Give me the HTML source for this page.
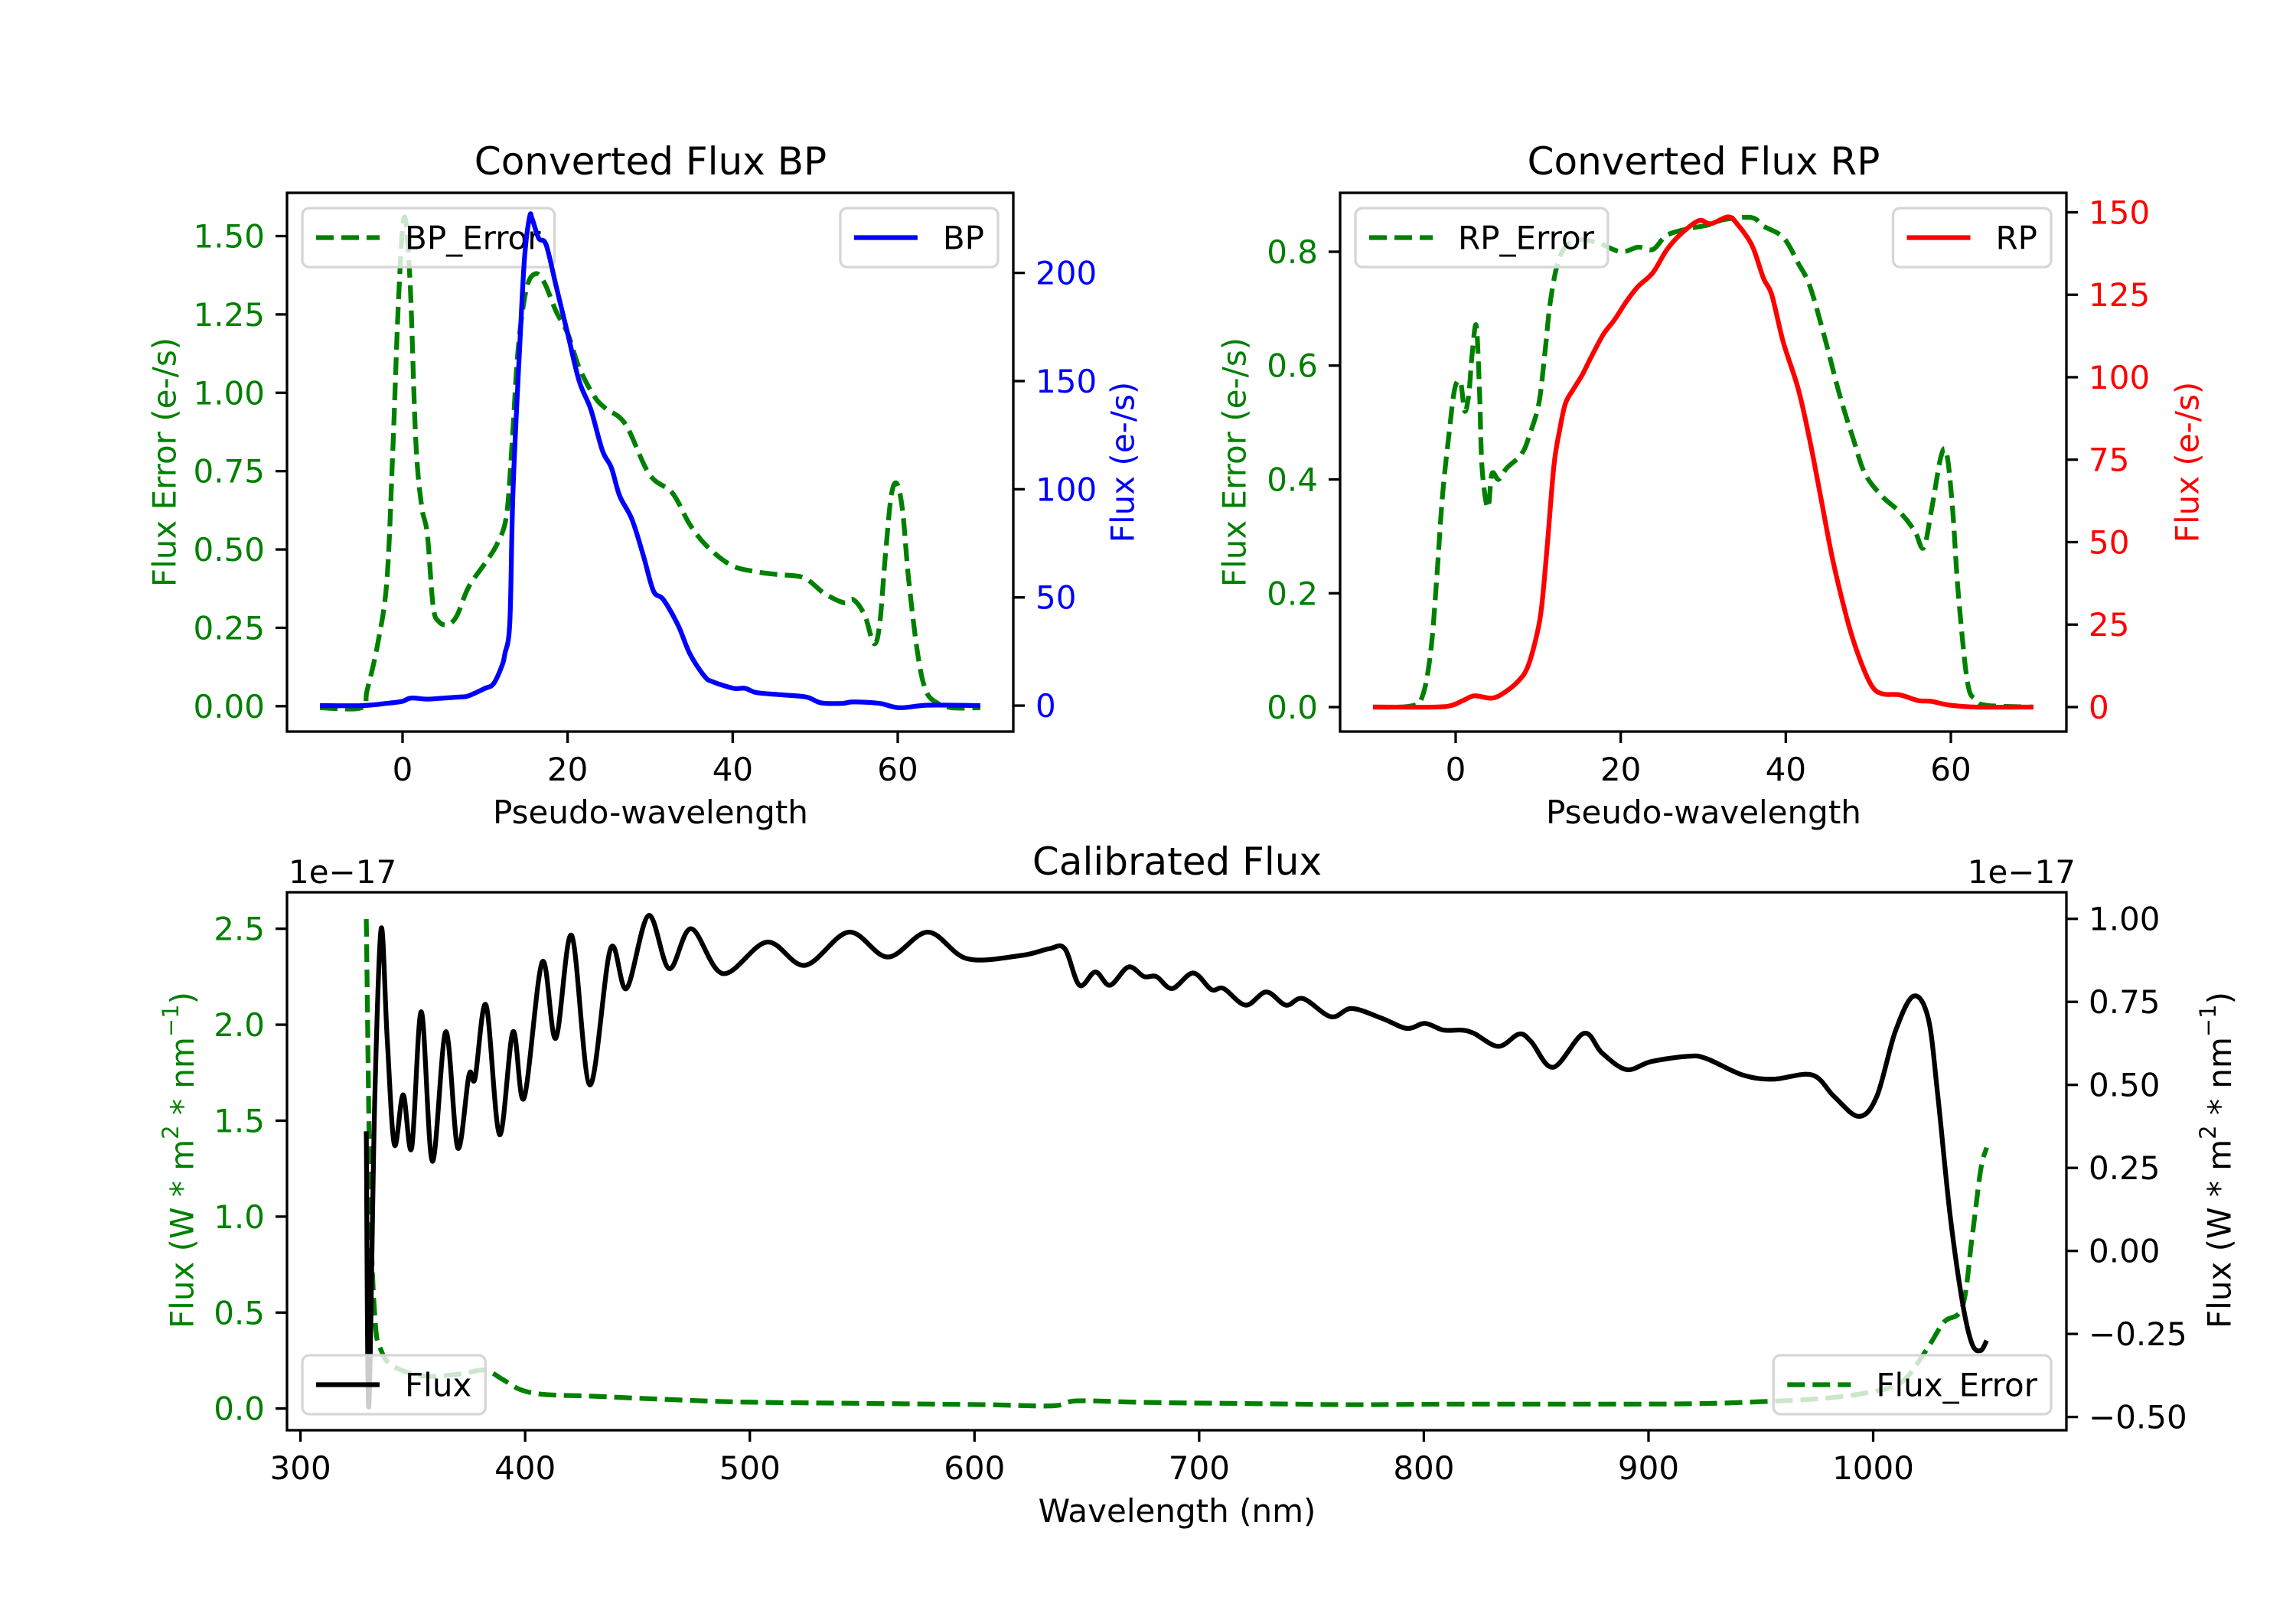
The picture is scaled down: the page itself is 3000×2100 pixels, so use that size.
<!DOCTYPE html>
<html><head><meta charset="utf-8">
<style>
html,body{margin:0;padding:0;background:#fff;}
svg{display:block;font-family:"DejaVu Sans","Liberation Sans",sans-serif;}
</style></head>
<body>
<svg id="fig" width="3000" height="2100" viewBox="0 0 3000 2100" xmlns="http://www.w3.org/2000/svg">
<rect x="0" y="0" width="3000" height="2100" fill="#fff"/>
<text x="850" y="228" font-size="50" text-anchor="middle">Converted Flux BP</text>
<text x="2226" y="228" font-size="50" text-anchor="middle">Converted Flux RP</text>
<text x="1538" y="1143" font-size="50" text-anchor="middle">Calibrated Flux</text>
<text x="850" y="1076" font-size="42" text-anchor="middle">Pseudo-wavelength</text>
<text x="2226" y="1076" font-size="42" text-anchor="middle">Pseudo-wavelength</text>
<text x="1538" y="1989" font-size="42" text-anchor="middle">Wavelength (nm)</text>
<text transform="translate(215,604) rotate(-90)" font-size="42" fill="#008000" text-anchor="middle" dominant-baseline="central">Flux Error (e-/s)</text>
<text transform="translate(1467,604) rotate(-90)" font-size="42" fill="#0000ff" text-anchor="middle" dominant-baseline="central">Flux (e-/s)</text>
<text transform="translate(1613,604) rotate(-90)" font-size="42" fill="#008000" text-anchor="middle" dominant-baseline="central">Flux Error (e-/s)</text>
<text transform="translate(2858,604) rotate(-90)" font-size="42" fill="#ff0000" text-anchor="middle" dominant-baseline="central">Flux (e-/s)</text>
<text transform="translate(238,1516) rotate(-90)" font-size="42" fill="#008000" text-anchor="middle" dominant-baseline="central">Flux (W * m<tspan font-size="29" dy="-15">2</tspan><tspan dy="15"> * nm</tspan><tspan font-size="29" dy="-15">−1</tspan><tspan dy="15">)</tspan></text>
<text transform="translate(2900,1516) rotate(-90)" font-size="42" fill="#000" text-anchor="middle" dominant-baseline="central">Flux (W * m<tspan font-size="29" dy="-15">2</tspan><tspan dy="15"> * nm</tspan><tspan font-size="29" dy="-15">−1</tspan><tspan dy="15">)</tspan></text>
<text x="377" y="1154" font-size="42">1e−17</text>
<text x="2712" y="1154" font-size="42" text-anchor="end">1e−17</text>
</svg>
<script>
// ---------- data ----------
const bpX=[-10,-5,-2,0,1,3,5,7,8,10,11,12,12.4,13,13.4,14.3,14.8,15.4,15.7,16.5,17.4,18.6,20,21.4,22.8,24.2,25.3,26.3,27.8,29.2,30.4,31.6,33.4,34.8,36.6,37.6,40.1,41.5,42.9,45.8,48.9,50.7,53.2,54.6,57.8,60.2,63.7,70];
const bpFlux=[0,0,1,2,3.5,3,3.5,4,4.5,8,10,18,24,39,101,174,208,226,225,216,213,194,172,150,137,118,110,97,86,69,53,49,37,24,13.5,11,8,8,6,5,4,1.3,1,1.7,1,-1,0.2,0];
const bpErrX=[-10,-5,-4.3,-3,-1.9,-1.2,-0.5,0.2,0.9,1.6,2.3,3.0,3.7,4.4,5.5,6.6,8.0,10.1,11.5,12.6,13.3,14.0,15.0,16.1,17.2,18.6,20,21.4,23.2,24.6,27,29.9,32.7,34.8,36.9,39.8,42.6,45.4,48.6,51.1,53.5,54.6,56,57.1,57.8,58.5,59.2,59.9,60.6,61.3,62.4,63.4,64.8,66.6,70];
const bpErr=[-0.005,-0.005,0.05,0.2,0.40,0.80,1.29,1.56,1.36,0.85,0.64,0.55,0.32,0.27,0.26,0.29,0.38,0.46,0.52,0.61,0.85,1.14,1.33,1.38,1.35,1.26,1.19,1.08,0.99,0.95,0.90,0.74,0.68,0.58,0.51,0.45,0.43,0.42,0.41,0.36,0.33,0.34,0.29,0.20,0.26,0.48,0.67,0.71,0.62,0.41,0.17,0.05,0.01,-0.005,-0.005];
const rpX=[-10,-2.6,-0.5,0.9,2.3,4.4,5.9,7.6,8.7,9.7,10.4,11.1,11.9,12.6,13.3,14.3,15.4,16.4,17.9,19.3,20.7,22.1,23.9,25.6,27.4,29.5,30.9,33.0,34.1,35.9,37.3,38.3,39.7,41.5,42.9,44.3,45.7,47.5,48.9,50.4,51.7,53.8,56,57.7,59.8,63,70];
const rpFlux=[0,0,0.5,2,3.4,2.7,4.4,7.9,12,20.5,30,49,73,84,92,96.5,101,106,113,117.6,123,127.5,131.7,138.7,143.7,147.5,146.5,148.6,146.5,140,130,125,110.6,96.5,81,62.8,44.5,26,15,6.5,4,3.7,2,1.7,0.6,0,0];
const rpErrX=[-10,-5.4,-4,-3.0,-2.3,-1.6,-0.8,-0.1,0.6,1.1,1.6,2.0,2.5,2.9,3.2,3.9,4.4,5.2,6.2,8.0,9.0,10.1,10.8,11.5,12.6,14.3,17.1,20,22.1,23.9,25.6,28.4,30.6,32.7,35.9,37.3,39.7,41.5,42.9,44.7,46.5,48.2,49.6,51.7,53.8,55.6,56.7,57.7,58.8,59.5,60.2,60.9,62,63,64.4,70];
const rpErr=[0,0.002,0.02,0.10,0.225,0.37,0.48,0.56,0.57,0.52,0.55,0.62,0.67,0.55,0.42,0.35,0.41,0.40,0.42,0.445,0.48,0.535,0.62,0.715,0.79,0.82,0.816,0.80,0.808,0.804,0.829,0.841,0.847,0.857,0.86,0.845,0.825,0.78,0.74,0.65,0.55,0.47,0.41,0.37,0.343,0.31,0.28,0.35,0.44,0.445,0.35,0.20,0.045,0.013,0.003,0];
const calX=[329.3,330.4,333,335.9,338.6,341.8,345.7,349.5,353.8,358.7,364.7,370,375,377.7,382.6,388.6,394.6,399.5,407.6,413.6,420.7,428.8,438,445.1,454.9,464.1,473.9,488,507.6,524.5,544,561.4,579.3,596.7,621,633.2,640.2,646.7,653.8,660.3,668.5,675.5,681,688,697.3,705.4,710.9,720.7,729.9,738.6,746.2,758.7,767.9,781.5,792.4,800.5,808.7,816.8,822.3,833.2,842.4,847.8,857.6,871.2,879.3,890.2,901.1,917.4,925.5,941.8,955.4,972.8,982.6,993.5,1001.6,1009.8,1017.9,1024.5,1028.8,1034.2,1039.7,1044,1047.8,1050.5];
const calFlux=[0.36,-0.47,0.44,0.97,0.64,0.32,0.47,0.31,0.72,0.27,0.66,0.31,0.53,0.52,0.74,0.35,0.66,0.46,0.87,0.64,0.95,0.50,0.91,0.79,1.01,0.85,0.97,0.835,0.93,0.86,0.96,0.885,0.96,0.88,0.89,0.91,0.91,0.80,0.84,0.80,0.855,0.826,0.826,0.79,0.837,0.787,0.79,0.74,0.78,0.74,0.76,0.705,0.73,0.70,0.67,0.685,0.665,0.665,0.655,0.616,0.653,0.63,0.553,0.655,0.596,0.546,0.57,0.586,0.58,0.53,0.517,0.53,0.465,0.405,0.465,0.66,0.767,0.70,0.465,0.11,-0.154,-0.28,-0.30,-0.27];
const calErrX=[329.3,331,333.2,336,341.3,354.9,371.2,382,390.2,398.4,409.2,431,458,496,550.5,604.9,634.8,645.7,675.5,729.9,767.9,811.4,865.8,920.1,952.7,974.5,996.2,1012.5,1023.4,1031.5,1039.7,1044,1047.8,1050.5];
const calErr=[2.55,1.12,0.46,0.30,0.22,0.17,0.18,0.20,0.15,0.096,0.073,0.064,0.05,0.034,0.027,0.02,0.014,0.04,0.032,0.025,0.02,0.023,0.023,0.025,0.037,0.05,0.08,0.137,0.30,0.45,0.53,0.89,1.24,1.36];
const bpXTicks=[0,20,40,60];
const bpLeftTicks=[0,0.25,0.5,0.75,1.0,1.25,1.5];
const bpRightTicks=[0,50,100,150,200];
const rpLeftTicks=[0,0.2,0.4,0.6,0.8];
const rpRightTicks=[0,25,50,75,100,125,150];
const calXTicks=[300,400,500,600,700,800,900,1000];
const calLeftTicks=[0,0.5,1.0,1.5,2.0,2.5];
const calRightTicks=[-0.5,-0.25,0,0.25,0.5,0.75,1.0];

// ---------- helpers ----------
const NS='http://www.w3.org/2000/svg';
const fig=document.getElementById('fig');
function mk(tag,attrs,parent){const e=document.createElementNS(NS,tag);for(const k in attrs)e.setAttribute(k,attrs[k]);(parent||fig).appendChild(e);return e;}
function scale(d0,d1,p0,p1){return v=>p0+(v-d0)/(d1-d0)*(p1-p0);}
function fmtMinus(s){return s.replace('-','\u2212');}
function pathD(xs,ys,sx,sy){
  const P=xs.map((x,i)=>[sx(x),sy(ys[i])]);
  let d='M'+P[0][0].toFixed(1)+','+P[0][1].toFixed(1);
  for(let i=0;i<P.length-1;i++){
    const p0=P[Math.max(0,i-1)],p1=P[i],p2=P[i+1],p3=P[Math.min(P.length-1,i+2)];
    const t=0.5/3;
    const c1=[p1[0]+(p2[0]-p0[0])*t,p1[1]+(p2[1]-p0[1])*t];
    const c2=[p2[0]-(p3[0]-p1[0])*t,p2[1]-(p3[1]-p1[1])*t];
    d+='C'+c1[0].toFixed(1)+','+c1[1].toFixed(1)+' '+c2[0].toFixed(1)+','+c2[1].toFixed(1)+' '+p2[0].toFixed(1)+','+p2[1].toFixed(1);
  }
  return d;
}

const BP={x0:375,x1:1324,y0:252,y1:956};
const RP={x0:1751,x1:2700,y0:252,y1:956};
const CAL={x0:375,x1:2700,y0:1166,y1:1869};

const bpSX=scale(-14,74,BP.x0,BP.x1), bpSL=scale(-0.081,1.638,BP.y1,BP.y0), bpSR=scale(-12,237,BP.y1,BP.y0);
const rpSX=scale(-14,74,RP.x0,RP.x1), rpSL=scale(-0.043,0.9035,RP.y1,RP.y0), rpSR=scale(-7.43,155.9,RP.y1,RP.y0);
const calSX=scale(294,1086,CAL.x0,CAL.x1), calSL=scale(-0.113,2.69,CAL.y1,CAL.y0), calSR=scale(-0.54,1.08,CAL.y1,CAL.y0);

function clip(id,ax){const cp=mk('clipPath',{id:id});mk('rect',{x:ax.x0,y:ax.y0,width:ax.x1-ax.x0,height:ax.y1-ax.y0},cp);}
clip('cbp',BP);clip('crp',RP);clip('ccal',CAL);

function xTicks(ax,ticks,sx,fmt,name){
  const g=mk('g',{});
  
  
  ticks.forEach(t=>{const x=sx(t);
    mk('line',{x1:x,x2:x,y1:ax.y1,y2:ax.y1+15,stroke:'#000','stroke-width':3.3},g);
    const tx=mk('text',{x:x,y:ax.y1+64,'font-size':42,'text-anchor':'middle'},g);
    tx.textContent=fmt(t);
    
    
  });
}
function yTicks(ax,ticks,sy,fmt,side,color,name){
  const g=mk('g',{});
  
  
  ticks.forEach(t=>{const y=sy(t);
    const xs=side==='left'?ax.x0:ax.x1, dir=side==='left'?-1:1;
    mk('line',{x1:xs,x2:xs+dir*15,y1:y,y2:y,stroke:'#000','stroke-width':3.3},g);
    const tx=mk('text',{x:xs+dir*29,y:y+15,'font-size':42,'text-anchor':side==='left'?'end':'start',fill:color},g);
    tx.textContent=fmtMinus(fmt(t));
    
    
  });
}
function legend(corner,ax,label,color,dashed){
  const g=mk('g',{});
  const tmp=mk('text',{'font-size':42},g);tmp.textContent=label;
  const tw=tmp.getComputedTextLength();g.removeChild(tmp);
  const w=18+83+33+tw+18, h=77;
  const x=corner==='ul'||corner==='ll'?ax.x0+20:ax.x1-20-w;
  const y=corner==='ul'||corner==='ur'?ax.y0+20:ax.y1-21-h;
  mk('rect',{x:x,y:y,width:w,height:h,rx:9,fill:'#fff','fill-opacity':0.8,stroke:'#d6d6d6','stroke-width':3.3},g);
  const ln=mk('line',{x1:x+18,x2:x+101,y1:y+h/2,y2:y+h/2,stroke:color,'stroke-width':6.25},g);
  if(dashed)ln.setAttribute('stroke-dasharray','23,10');
  const tx=mk('text',{x:x+134,y:y+h/2+15,'font-size':42},g);tx.textContent=label;
  return g;
}
function series(xs,ys,sx,sy,color,dashed,clipId){
  const p=mk('path',{d:pathD(xs,ys,sx,sy),fill:'none',stroke:color,'stroke-width':6.25,'stroke-linejoin':'round','clip-path':'url(#'+clipId+')'});
  if(dashed)p.setAttribute('stroke-dasharray','23,10');
  return p;
}
function frame(ax){return mk('rect',{x:ax.x0,y:ax.y0,width:ax.x1-ax.x0,height:ax.y1-ax.y0,fill:'none',stroke:'#000','stroke-width':3.3});}

// ---------- BP panel ----------
const bpErrLine=series(bpErrX,bpErr,bpSX,bpSL,'#008000',true,'cbp');


const lg1=legend('ul',BP,'BP_Error','#008000',true);


const bpLine=series(bpX,bpFlux,bpSX,bpSR,'#0000ff',false,'cbp');


const lg2=legend('ur',BP,'BP','#0000ff',false);


const f1=frame(BP);


xTicks(BP,bpXTicks,bpSX,t=>String(t),'bp-x-ticks');
yTicks(BP,bpLeftTicks,bpSL,t=>t.toFixed(2),'left','#008000','bp-left-y-ticks');
yTicks(BP,bpRightTicks,bpSR,t=>String(t),'right','#0000ff','bp-right-y-ticks');

// ---------- RP panel ----------
const rpErrLine=series(rpErrX,rpErr,rpSX,rpSL,'#008000',true,'crp');


const lg3=legend('ul',RP,'RP_Error','#008000',true);


const rpLine=series(rpX,rpFlux,rpSX,rpSR,'#ff0000',false,'crp');


const lg4=legend('ur',RP,'RP','#ff0000',false);


const f2=frame(RP);


xTicks(RP,bpXTicks,rpSX,t=>String(t),'rp-x-ticks');
yTicks(RP,rpLeftTicks,rpSL,t=>t.toFixed(1),'left','#008000','rp-left-y-ticks');
yTicks(RP,rpRightTicks,rpSR,t=>String(t),'right','#ff0000','rp-right-y-ticks');

// ---------- Calibrated panel ----------
const calErrLine=series(calErrX,calErr,calSX,calSL,'#008000',true,'ccal');


const lg5=legend('lr',CAL,'Flux_Error','#008000',true);


const calLine=series(calX,calFlux,calSX,calSR,'#000000',false,'ccal');


const lg6=legend('ll',CAL,'Flux','#000000',false);


const f3=frame(CAL);


xTicks(CAL,calXTicks,calSX,t=>String(t),'calibrated-x-ticks');
yTicks(CAL,calLeftTicks,calSL,t=>t.toFixed(1),'left','#008000','calibrated-left-y-ticks');
yTicks(CAL,calRightTicks,calSR,t=>t.toFixed(2),'right','#000000','calibrated-right-y-ticks');
</script>
</body></html>
